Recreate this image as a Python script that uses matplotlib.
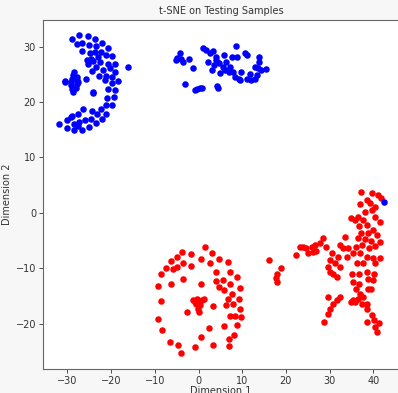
import numpy as np
import matplotlib.pyplot as plt

# t-SNE embedding of testing samples
blue_x = [-28.9, -27.3, -25.3, -23.6, -27.9, -26.6, -25.0, -23.4, -22.0, -20.8,
          -26.6, -24.9, -23.7, -22.4, -24.5, -22.9, -21.2, -19.7, -25.6, -24.1,
          -22.6, -20.7, -19.1, -25.3, -23.4, -21.8, -20.3, -19.1, -24.3, -22.8,
          -21.2, -19.8, -18.5, -21.5, -19.8, -20.7, -19.2, -19.3, -20.9, -19.8,
          -21.2, -21.1, -16.2, -24.1, -24.2, -25.8,
          -28.6, -28.7, -29.0, -29.2, -29.1, -28.9, -28.7, -27.9, -27.8, -27.8,
          -28.1, -27.6, -30.6, -30.5,
          -31.9, -30.2, -30.2, -28.5, -28.9, -27.7, -26.4, -27.3, -27.5, -26.6,
          -26.0, -25.0, -24.5, -24.3, -23.5, -23.2, -22.4, -22.1, -28.5, -29.1,
          -5.0, -4.3, -3.9, -5.2, -3.5, -2.1, -1.2, -3.1, -0.8, -0.3,
          0.3, 0.8, 4.3, 4.5,
          1.1, 1.7, 2.6, 3.4, 2.2, 3.2, 4.1, 4.7, 5.8, 5.5,
          4.9, 6.4, 7.2, 7.6, 8.5, 8.9, 7.9, 8.3, 9.3, 9.8,
          10.6, 11.1, 11.0, 12.1, 12.9, 13.3, 13.9, 13.9, 13.7, 14.4,
          15.4, 12.9, 11.8, 9.6, 7.0, 6.0, 3.5, 4.0, 42.5]
blue_y = [31.4, 32.1, 31.9, 31.4, 30.4, 30.7, 30.3, 30.1, 30.6, 29.7,
          29.2, 28.9, 29.1, 29.1, 27.7, 28.2, 28.5, 28.3, 27.6, 27.4,
          27.3, 26.9, 26.8, 26.8, 26.4, 25.8, 26.1, 25.5, 25.6, 24.7,
          24.7, 24.5, 23.8, 23.9, 23.5, 22.3, 22.1, 20.9, 20.7, 19.4,
          19.4, 17.9, 26.3, 21.6, 21.8, 24.2,
          25.5, 24.8, 24.2, 23.6, 23.0, 22.4, 21.8, 24.5, 23.9, 23.2,
          22.6, 23.6, 23.8, 23.6,
          16.1, 16.8, 15.3, 14.9, 17.4, 17.9, 18.7, 16.4, 15.6, 15.0,
          16.8, 15.5, 17.0, 18.4, 16.2, 17.9, 18.7, 17.0, 16.1, 17.3,
          27.9, 28.8, 27.7, 27.6, 27.2, 27.7, 26.2, 23.2, 22.1, 22.4,
          22.6, 22.6, 22.9, 22.6,
          29.7, 29.4, 28.8, 29.2, 27.3, 25.8, 28.2, 27.0, 28.5, 26.4,
          25.2, 27.3, 26.4, 28.2, 30.1, 28.2, 25.5, 24.5, 24.2, 25.5,
          28.8, 28.5, 24.2, 23.9, 24.1, 24.8, 28.2, 27.3, 26.1, 25.8,
          25.9, 26.4, 25.1, 24.0, 25.5, 25.8, 26.7, 27.6, 2.0]

red_x = [1.4, 3.0, 4.6, 6.7, 7.2, 8.9, 9.5, 9.3, 9.5, 9.8,
         8.7, 8.1, 6.9, 6.9, 3.4, 0.6, -0.8, -3.9, -4.6, -6.6,
         -8.3, -9.2, -8.7, -9.2, -8.5, -7.5, -6.3, -5.0, -3.8, -1.8,
         0.5,
         -5.9, -5.0, -3.5, -1.8, 2.7, 4.0, 5.5, 4.0, 4.6, 5.8,
         7.2, 7.6, 6.7, 8.0, 6.2, 7.1, 8.3, 5.9, 2.4, 3.4,
         -2.6, -6.3, -3.5, 0.6,
         -1.2, -0.3, 0.7, 1.2, -0.6, 0.3, -0.2, 0.0, -0.8, 0.2,
         22.4, 23.2, 24.7, 25.9, 27.0, 27.8, 28.5, 29.2, 26.6, 24.0,
         25.0, 26.3,
         16.2, 18.8, 18.0, 18.0, 17.8,
         28.7, 29.7, 30.2, 30.8, 31.6, 32.4, 29.7,
         29.7, 30.1, 30.5, 30.8, 30.1, 31.2, 31.9, 32.4, 33.1, 33.5,
         33.9, 31.6, 32.5, 34.3,
         37.3, 39.8, 41.1, 41.7,
         36.9, 38.5, 39.2, 40.4, 38.1, 39.8, 36.5, 35.0, 35.8, 37.7,
         40.4, 41.5, 36.8, 38.5, 40.0, 37.3, 38.9, 40.9, 36.5, 38.1,
         39.6, 41.5, 36.0, 37.5, 39.1, 40.4, 35.4, 36.9, 38.5, 40.0,
         41.5, 36.2, 37.7, 40.4, 35.2, 36.7, 38.5, 40.2, 35.3, 36.7,
         39.9, 36.0, 36.9, 38.8, 35.4, 34.8, 36.6, 37.7, 38.5, 37.4,
         38.5, 35.8, 38.5, 39.8, 40.2, 40.4, 40.8, 41.4, 38.8, 39.6]
red_y = [-6.1, -7.2, -8.4, -8.8, -10.6, -11.6, -13.5, -15.6, -17.3, -18.8,
         -20.3, -22.1, -22.7, -24.0, -23.9, -22.4, -24.2, -25.3, -23.9, -23.3,
         -21.2, -19.1, -15.9, -13.2, -11.1, -9.9, -8.7, -7.9, -7.0, -7.5,
         -8.3,
         -10.2, -9.7, -9.1, -9.6, -9.1, -10.6, -12.1, -12.3, -13.4, -14.0,
         -12.9, -14.6, -15.5, -16.5, -16.7, -18.6, -18.7, -20.4, -20.8, -16.8,
         -17.9, -12.9, -11.9, -12.8,
         -15.8, -15.6, -15.8, -15.5, -16.5, -16.7, -17.3, -18.0, -16.1, -16.2,
         -7.6, -6.1, -6.4, -6.1, -6.9, -5.5, -4.6, -6.1, -5.8, -6.1,
         -7.3, -7.0,
         -8.5, -9.9, -11.0, -12.5, -11.7,
         -19.7, -18.2, -17.3, -16.5, -15.8, -15.2, -15.2,
         -9.7, -8.5, -7.3, -11.0, -10.6, -9.1, -7.9, -9.7, -6.4, -4.3,
         -7.9, -11.6, -5.8, -6.4,
         3.8, 3.6, 3.2, 2.6,
         1.6, 2.3, 1.7, 1.1, 0.2, 0.5, -0.7, -1.0, -1.3, -1.3,
         -0.7, -1.6, -2.4, -2.2, -3.1, -3.7, -3.7, -4.0, -4.5, -4.8,
         -5.1, -5.2, -6.1, -5.8, -6.4, -6.0, -7.3, -7.3, -7.9, -8.2,
         -8.1, -9.1, -9.1, -9.1, -11.0, -11.0, -10.6, -11.0, -12.5, -12.8,
         -12.2, -13.7, -14.6, -13.7, -15.8, -16.1, -15.5, -15.2, -16.4, -16.4,
         -17.3, -16.1, -19.7, -18.5, -19.4, -20.6, -21.5, -19.9, -12.0, -13.8]

fig = plt.figure(figsize=(3.98, 3.93), dpi=100, facecolor='#f7f7f7')
ax = fig.add_axes([43/398, 1 - 369/393, (399 - 43)/398, (369 - 20)/393])

ax.scatter(red_x, red_y, c='red', s=22, linewidths=0)
ax.scatter(blue_x, blue_y, c='blue', s=22, linewidths=0)

ax.set_xlim(-35.6, 45.9)
ax.set_ylim(-28.2, 34.8)
ax.set_xticks([-30, -20, -10, 0, 10, 20, 30, 40])
ax.set_yticks([-20, -10, 0, 10, 20, 30])
ax.tick_params(labelsize=7, colors='#333333', length=3, width=0.6, pad=2)
for s in ax.spines.values():
    s.set_color('#666666')
    s.set_linewidth(0.8)

ax.set_title('t-SNE on Testing Samples', fontsize=7, color='#333333', pad=4)
ax.set_xlabel('Dimension 1', fontsize=7, color='#333333', labelpad=0)
ax.set_ylabel('Dimension 2', fontsize=7, color='#333333')
ax.yaxis.set_label_coords(-0.087, 0.5)

fig.savefig('out.png', dpi=100, facecolor=fig.get_facecolor())
